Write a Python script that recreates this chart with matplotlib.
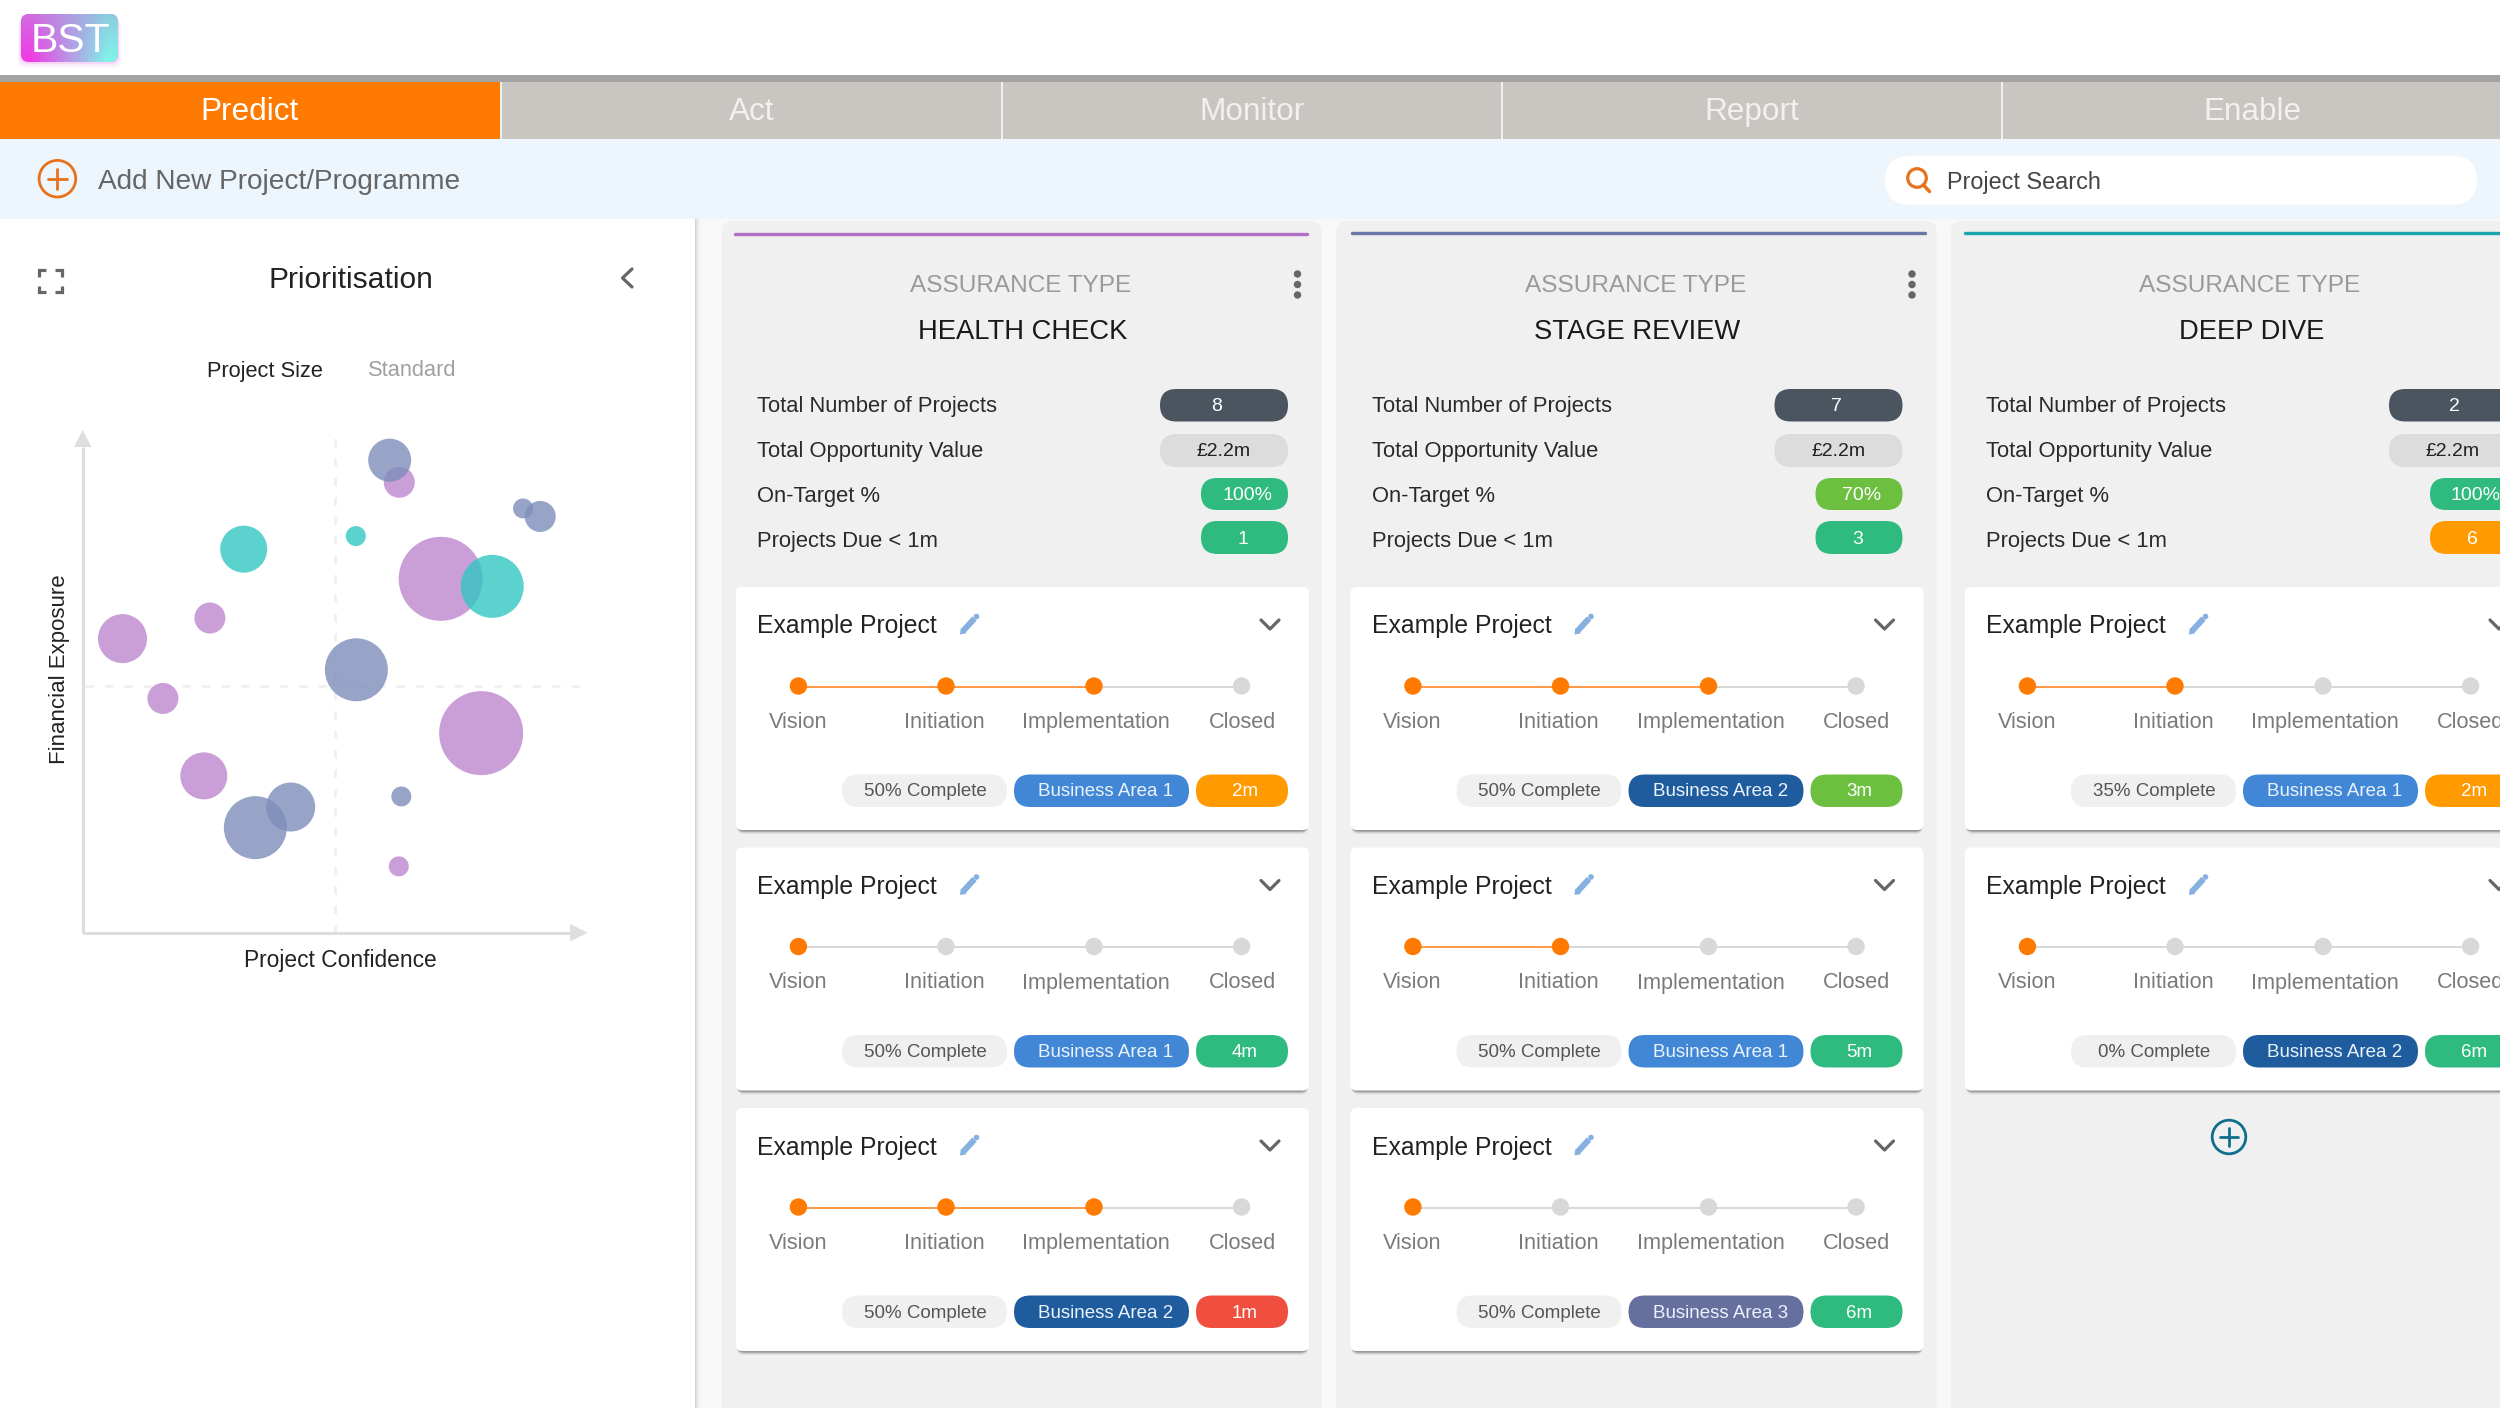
import numpy as np
import matplotlib
matplotlib.use("Agg")
import matplotlib.pyplot as plt
from matplotlib.patches import FancyBboxPatch, Rectangle, Circle, Polygon

plt.rcParams['font.family'] = ['Liberation Sans', 'DejaVu Sans']

# ---------- data ----------
tabs = ["Predict", "Act", "Monitor", "Report", "Enable"]
axis_x_label = "Project Confidence"
axis_y_label = "Financial Exposure"

health_conf = [62.7, 7.9, 25.2, 70.9, 15.9, 78.9, 24.0, 62.6]
health_fin = [89.6, 58.5, 62.6, 70.4, 46.6, 39.7, 31.2, 13.2]
health_size = [31, 49, 31, 84, 31, 84, 47, 20]
stage_conf = [60.8, 87.2, 90.6, 54.2, 41.2, 34.2, 63.1]
stage_fin = [94.0, 84.4, 82.8, 52.3, 25.0, 20.9, 27.1]
stage_size = [43, 20, 31, 63, 49, 63, 20]
deep_conf = [31.9, 54.1, 81.1]
deep_fin = [76.3, 78.9, 68.9]
deep_size = [47, 20, 63]

column_names = ["HEALTH CHECK", "STAGE REVIEW", "DEEP DIVE"]
stat_names = ["Total Number of Projects", "Total Opportunity Value", "On-Target %", "Projects Due < 1m"]
stat_projects = ["8", "7", "2"]
stat_value = ["£2.2m", "£2.2m", "£2.2m"]
stat_target = ["100%", "70%", "100%"]
stat_due = ["1", "3", "6"]
step_names = ["Vision", "Initiation", "Implementation", "Closed"]
steps_done = [[3, 1, 3], [3, 2, 1], [2, 1]]
complete = [["50%", "50%", "50%"], ["50%", "50%", "50%"], ["35%", "0%"]]
areas = [["Business Area 1", "Business Area 1", "Business Area 2"],
         ["Business Area 2", "Business Area 1", "Business Area 3"],
         ["Business Area 1", "Business Area 2"]]
due = [["2m", "4m", "1m"], ["3m", "5m", "6m"], ["2m", "6m"]]

# ---------- colours ----------
ORANGE = "#FF7A00"
GREEN = "#2FBB7F"
LIME = "#6CBF3F"
AMBER = "#FF9A00"
RED = "#F04E3E"
status_col = {"100%": GREEN, "70%": LIME, "1": GREEN, "3": GREEN, "6": AMBER,
              "2m": AMBER, "4m": GREEN, "1m": RED, "3m": LIME, "5m": GREEN, "6m": GREEN}
area_col = {"Business Area 1": "#4287D6", "Business Area 2": "#1F5C9E", "Business Area 3": "#66709E"}
line_col = ["#B070C4", "#6B77A8", "#1BA5AB"]

fig = plt.figure(figsize=(25, 14.08), dpi=100, facecolor="#F8F8F8")
ax = fig.add_axes([0, 0, 1, 1])
ax.set_xlim(0, 2500)
ax.set_ylim(1408, 0)
ax.axis("off")


def rect(x0, y0, x1, y1, c, z=1, **k):
    p = Rectangle((x0, y0), x1 - x0, y1 - y0, fc=c, ec="none", zorder=z, **k)
    ax.add_patch(p)
    return p


def rrect(x0, y0, x1, y1, c, r=None, z=2, **k):
    if r is None:
        r = (y1 - y0) / 2
    p = FancyBboxPatch((x0, y0), x1 - x0, y1 - y0, boxstyle=f"round,pad=0,rounding_size={r}",
                       fc=c, ec="none", zorder=z, **k)
    ax.add_patch(p)
    return p


def txt(x, y, s, size, c="#333333", ha="center", va="baseline", z=5, **k):
    return ax.text(x, y, s, fontsize=size, color=c, ha=ha, va=va, zorder=z, **k)


def line(xs, ys, c, lw_px, z=3, **k):
    k.setdefault("solid_capstyle", "round")
    ax.plot(xs, ys, color=c, lw=lw_px * 0.72, zorder=z, **k)


def plus_icon(x, y, r, c):
    ax.add_patch(Circle((x, y), r, fc="none", ec=c, lw=2.0, zorder=4))
    d = r * 0.52
    line([x - d, x + d], [y, y], c, 2.8, z=4)
    line([x, x], [y - d, y + d], c, 2.8, z=4)


# ---------- header ----------
rect(0, 0, 2500, 75, "white", z=1)
rect(0, 75, 2500, 82, "#A3A3A3", z=1)
rect(0, 82, 2500, 139, "#C9C5C1", z=1)
rect(0, 82, 500, 139, ORANGE, z=2)
tab_centres = [249.5, 751.5, 1252, 1752, 2252]
for xs in [501, 1002, 1502, 2002]:
    rect(xs - 1, 82, xs + 1, 139, "#F2F1F0", z=3)
for i, t in enumerate(tabs):
    txt(tab_centres[i], 120, t, 22.7, "white" if i == 0 else "#F3F1EF")

# logo
for o, a in [(6, .06), (4, .08), (2, .12)]:
    rrect(21 - o / 2, 14 + o, 118 + o / 2, 62 + o, "#E060E0", r=8, z=2, alpha=a)
logo = rrect(21, 14, 118, 62, "#D070E0", r=8, z=3)
u, v = np.meshgrid(np.linspace(0, 1, 120), np.linspace(0, 1, 60))
tl, tr = np.array([.82, .42, .88]), np.array([.55, .80, .88])
bl, br = np.array([.95, .22, .90]), np.array([.50, .96, .91])
s = np.clip(u * 1.25 - .12, 0, 1)[..., None]
top = tl * (1 - s) + tr * s
bot = bl * (1 - s) + br * s
g = top * (1 - v[..., None]) + bot * v[..., None]
im = ax.imshow(g, extent=(21, 118, 62, 14), aspect="auto", zorder=3.5, interpolation="bilinear")
im.set_clip_path(logo)
ax.set_xlim(0, 2500)
ax.set_ylim(1408, 0)
txt(70, 52, "BST", 29.5, "white")

# add / search bar
rect(0, 139, 2500, 219, "#EDF5FD", z=1)
ax.add_patch(Circle((57.4, 178.7), 18.3, fc="none", ec="#E8721B", lw=2.0, zorder=4))
line([48, 67], [178.7, 178.7], "#E8721B", 2.8, z=4)
line([57.4, 57.4], [169, 188.5], "#E8721B", 2.8, z=4)
txt(98.5, 189, "Add New Project/Programme", 20.2, "#666666", ha="left")
rrect(1885, 156, 2477, 204.6, "white")
ax.add_patch(Circle((1917, 178), 9.3, fc="none", ec="#E8721B", lw=2.3, zorder=4))
line([1923.5, 1929.5], [185, 191.5], "#E8721B", 3.5, z=4)
txt(1947, 189.5, "Project Search", 16.8, "#444444", ha="left")

# ---------- left panel ----------
rect(0, 219, 695, 1408, "white", z=2)
for i, a in enumerate([.14, .09, .06, .035, .02, .01]):
    rect(695 + i, 219, 696 + i, 1408, "black", z=2, alpha=a)
for xs, ys, dx, dy in [(39, 270, 1, 1), (61.5, 270, -1, 1), (39, 292, 1, -1), (61.5, 292, -1, -1)]:
    line([xs, xs, xs + dx * 6.5], [ys + dy * 6.5, ys, ys], "#666666", 3.2, z=4, solid_capstyle="butt", solid_joinstyle="miter")
txt(351, 288.5, "Prioritisation", 21.6, "#222222")
line([632, 622.5, 632], [269, 278, 287], "#666666", 3.2, z=4)
txt(207, 376.5, "Project Size", 15.7, "#222222", ha="left")
txt(368, 376.5, "Standard", 15.7, "#A0A0A0", ha="left")

# bubble chart in its own axes, x 82.6-587.7 px, y 430-932.7 px
cax = fig.add_axes([82.6 / 2500, 1 - 932.7 / 1408, (587.7 - 82.6) / 2500, (932.7 - 430) / 1408], zorder=3)
cax.patch.set_alpha(0)
cax.set_xlim(0, 100)
cax.set_ylim(0, 100)
cax.set_xticks([])
cax.set_yticks([])
for sp in cax.spines.values():
    sp.set_visible(False)
GREY = "#DEDEDE"
cax.plot([50, 50], [0, 100], color="#F0F0F0", lw=2, dashes=(3, 4), zorder=1, clip_on=False)
cax.plot([0.5, 100], [49, 49], color="#F0F0F0", lw=2, dashes=(3, 4), zorder=1, clip_on=False)
cax.plot([0, 0], [0, 96.6], color=GREY, lw=2.2, zorder=1, clip_on=False, solid_capstyle="butt")
cax.plot([0, 96.5], [0, 0], color=GREY, lw=2.2, zorder=1, clip_on=False, solid_capstyle="butt")
ax.add_patch(Polygon([[82.6, 430], [74, 447], [91.4, 447]], fc=GREY, ec="none", zorder=2.5))
ax.add_patch(Polygon([[587.7, 932.7], [570, 924], [570, 941.5]], fc=GREY, ec="none", zorder=2.5))


def area_of(d):
    return (np.asarray(d) * 0.72) ** 2


cax.scatter(health_conf, health_fin, s=area_of(health_size), c="#BD87CD", alpha=.8, lw=0, zorder=2, clip_on=False)
cax.scatter(deep_conf, deep_fin, s=area_of(deep_size), c="#33C7C3", alpha=.8, lw=0, zorder=3, clip_on=False)
cax.scatter(stage_conf, stage_fin, s=area_of(stage_size), c="#7D8EBA", alpha=.8, lw=0, zorder=4, clip_on=False)
txt(60, 669, axis_y_label, 16, "#222222", rotation=90, va="center")
txt(340, 967, axis_x_label, 16.4, "#222222")

# ---------- columns ----------
COL_STEP = 614.5
CARD_TOPS = [587, 847.5, 1108]
STEP_X = [798.4, 946, 1094, 1241.6]
STEP_LABEL_X = [798, 944, 1096, 1242]
STAT_BASE = [412, 457, 502, 547]
TOP_LINE = [(735, 1307, 234), (1351.5, 1925, 232.5), (1965, 2540, 232.5)]
PROJECT_COUNT_X = [1217, 1222, 1225.5]

for ci, name in enumerate(column_names):
    o = COL_STEP * ci
    x0, x1, yl = TOP_LINE[ci]
    rrect(722 + o, 221.5, 1322 + o, 1440, "#F0F0F0", r=10, z=1.5)
    line([x0, x1], [yl, yl], line_col[ci], 3.4, z=3)
    txt(1021 + o, 292.5, "ASSURANCE TYPE", 17.6, "#9A9A9A")
    txt(1022.4 + o, 339, name, 19.7, "#1A1A1A")
    for dy in (274, 284.5, 295):
        ax.add_patch(Circle((1297.5 + o, dy), 3.7, fc="#666666", ec="none", zorder=4))
    for lab, y in zip(stat_names, STAT_BASE):
        txt(757 + o, y, lab, 15.8, "#2A2A2A", ha="left")
    # statistics pills
    rrect(1160 + o, 389, 1288 + o, 421.5, "#4A5560")
    txt(PROJECT_COUNT_X[ci] + o, 411, stat_projects[ci], 14, "white")
    rrect(1160 + o, 434, 1288 + o, 467, "#DCDCDC")
    txt(1224 + o, 456, stat_value[ci], 14, "#222222")
    rrect(1201 + o, 478, 1288 + o, 510, status_col[stat_target[ci]])
    txt(1247 + o, 500.5, stat_target[ci], 14, "white")
    rrect(1201 + o, 521, 1288 + o, 554, status_col[stat_due[ci]])
    txt(1243 + o, 544, stat_due[ci], 14, "white")

    for ki in range(len(areas[ci])):
        t = CARD_TOPS[ki]
        # card with soft shadow
        for grow, a in [(3.5, .06), (2.2, .12), (1.1, .22)]:
            rrect(737 + o, t + 2, 1308 + o, t + 243.5 + grow, "black", r=7, z=2, alpha=a)
        rrect(736 + o, t, 1309 + o, t + 243, "white", r=6, z=2.2)
        txt(757 + o, t + 46.5, "Example Project", 17.8, "#222222", ha="left")
        # pencil icon
        line([963 + o, 974.5 + o], [t + 44, t + 31.5], "#85B0E0", 6, z=4, solid_capstyle="butt")
        ax.add_patch(Polygon([[960 + o, t + 47.5], [960.8 + o, t + 41], [966.5 + o, t + 46.3]], fc="#85B0E0", ec="none", zorder=4))
        ax.add_patch(Circle((976.5 + o, t + 29.5), 2.8, fc="#85B0E0", ec="none", zorder=4))
        # chevron
        line([1261 + o, 1270 + o, 1279 + o], [t + 33, t + 42, t + 33], "#666666", 3.2, z=4)
        # stepper
        n = steps_done[ci][ki]
        sy = t + 99
        for j in range(3):
            col = "#FF9A4A" if j + 1 < n else "#D8D8D8"
            line([STEP_X[j] + o, STEP_X[j + 1] + o], [sy + .5, sy + .5], col, 2, z=3)
        for j in range(4):
            ax.add_patch(Circle((STEP_X[j] + o, sy), 8.7, fc=ORANGE if j < n else "#D8D8D8", ec="none", zorder=4))
            txt(STEP_LABEL_X[j] + o, t + 141, step_names[j], 15.6, "#7A7A7A")
        # bottom pills
        y0, y1 = t + 187.5, t + 220
        rrect(842 + o, y0, 1007 + o, y1, "#F0F0F0", z=3)
        txt(925 + o, t + 209.5, complete[ci][ki] + " Complete", 13.5, "#555555")
        a_name = areas[ci][ki]
        rrect(1014 + o, y0, 1189 + o, y1, area_col[a_name], z=3)
        txt(1106 + o, t + 209.5, a_name, 13.5, "#EAF2FB")
        rrect(1196 + o, y0, 1288 + o, y1, status_col[due[ci][ki]], z=3)
        txt(1245 + o, t + 209.5, due[ci][ki], 13.5, "white")

plus_icon(2229, 1137, 16.8, "#0F6E8C")

fig.savefig("out.png", dpi=100, facecolor=fig.get_facecolor())
